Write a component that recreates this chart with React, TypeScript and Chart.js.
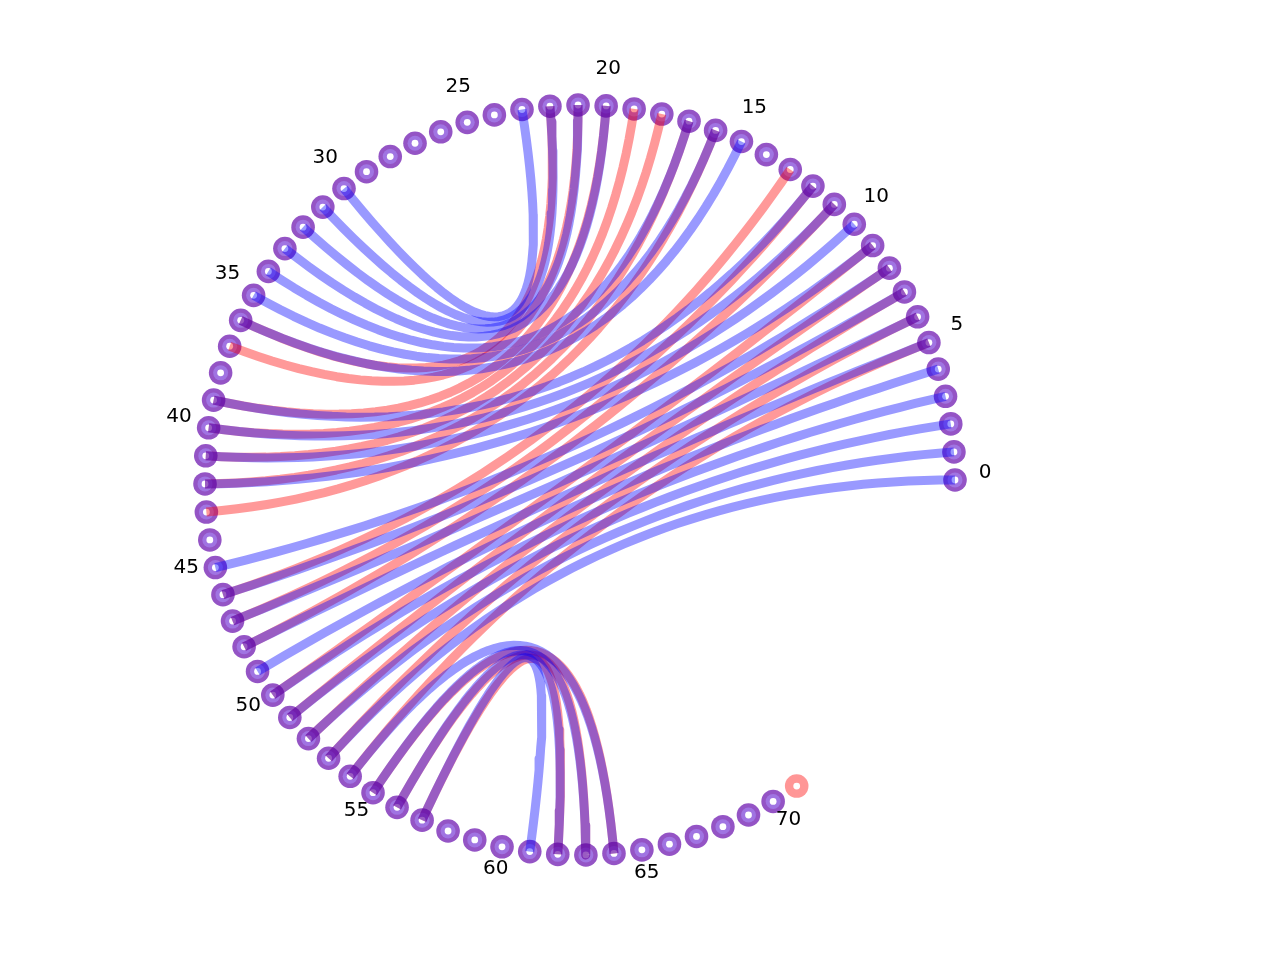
import React, { useEffect, useRef } from 'react';
import { Chart, registerables } from 'chart.js';

Chart.register(...registerables);

// two pairings drawn on the same ring of nodes
const blueNodeCount = 71;
const redNodeCount = 72;

const blueFrom = [0, 1, 2, 3, 4, 5, 6, 7, 8, 9, 10, 11, 12, 15, 16, 17, 20, 21, 22, 23, 54, 55, 56, 57];
const blueTo = [53, 52, 51, 50, 49, 48, 47, 46, 45, 42, 41, 40, 39, 36, 35, 34, 33, 32, 31, 30, 64, 63, 62, 61];

const redFrom = [5, 6, 7, 8, 9, 11, 12, 13, 16, 17, 18, 19, 20, 21, 22, 55, 56, 57];
const redTo = [54, 53, 52, 51, 50, 48, 47, 46, 43, 42, 41, 40, 39, 37, 36, 64, 63, 62];

const tickNodes = [0, 5, 10, 15, 20, 25, 30, 35, 40, 45, 50, 55, 60, 65, 70];
const tickLabels = ['0', '5', '10', '15', '20', '25', '30', '35', '40', '45', '50', '55', '60', '65', '70'];

const STEP = (4.3 * Math.PI) / 180;
const LABEL_R = 1.08;

const nodePos = (i: number) => ({ x: Math.cos(i * STEP), y: Math.sin(i * STEP) });

// quadratic curve with the ring centre as control point
const curve = (a: number, b: number) => {
  const p = nodePos(a);
  const q = nodePos(b);
  const pts = [];
  for (let k = 0; k <= 48; k++) {
    const t = k / 48;
    pts.push({ x: (1 - t) * (1 - t) * p.x + t * t * q.x, y: (1 - t) * (1 - t) * p.y + t * t * q.y });
  }
  return pts;
};

const labelPlugin = {
  id: 'nodeLabels',
  afterDatasetsDraw(chart: any) {
    const { ctx, scales } = chart;
    ctx.save();
    ctx.font = '20px "DejaVu Sans"';
    ctx.fillStyle = '#000';
    ctx.textAlign = 'center';
    ctx.textBaseline = 'middle';
    tickNodes.forEach((n, i) => {
      const a = n * STEP;
      const px = scales.x.getPixelForValue(LABEL_R * Math.cos(a));
      const py = scales.y.getPixelForValue(LABEL_R * Math.sin(a)) - 7;
      ctx.fillText(tickLabels[i], px, py);
    });
    ctx.restore();
  },
};

const App: React.FC = () => {
  const canvasRef = useRef<HTMLCanvasElement | null>(null);

  useEffect(() => {
    if (!canvasRef.current) return;

    const allNodes = Array.from({ length: redNodeCount }, (_, i) => nodePos(i));
    const outerColors = allNodes.map((_, i) => (i < blueNodeCount ? 'rgb(148,84,197)' : 'rgb(255,150,150)'));
    const innerColors = allNodes.map((_, i) => (i < blueNodeCount ? 'rgb(160,116,226)' : 'rgb(255,150,150)'));

    const edgeStyle = {
      showLine: true,
      pointRadius: 0,
      borderWidth: 9,
      borderCapStyle: 'butt',
      borderJoinStyle: 'round',
      tension: 0,
      fill: false,
    };

    const blueSets = blueFrom.map((a, i) => ({
      ...edgeStyle,
      data: curve(a, blueTo[i]),
      borderColor: 'rgba(0,0,255,0.4)',
      order: 1,
    }));
    const redSets = redFrom.map((a, i) => ({
      ...edgeStyle,
      data: curve(a, redTo[i]),
      borderColor: 'rgba(255,0,0,0.4)',
      order: 2,
    }));

    const nodeSets = [
      { data: allNodes, pointRadius: 3.4, pointBackgroundColor: '#fff', pointBorderWidth: 0, order: 3 },
      { data: allNodes, pointRadius: 7.5, pointBackgroundColor: innerColors, pointBorderWidth: 0, order: 4 },
      { data: allNodes, pointRadius: 11.8, pointBackgroundColor: outerColors, pointBorderWidth: 0, order: 5 },
    ];

    const chart = new Chart(canvasRef.current, {
      type: 'scatter',
      data: { datasets: [...blueSets, ...redSets, ...nodeSets] as any },
      options: {
        animation: false,
        responsive: false,
        devicePixelRatio: 1,
        events: [],
        layout: { padding: 0, autoPadding: false },
        plugins: { legend: { display: false }, tooltip: { enabled: false } },
        scales: {
          x: { type: 'linear', display: false, min: -580 / 375, max: 700 / 375 },
          y: { type: 'linear', display: false, min: -1.28, max: 1.28 },
        },
      },
      plugins: [labelPlugin],
    });

    return () => chart.destroy();
  }, []);

  return (
    <div style={{ position: 'absolute', left: 0, top: 0, width: 1280, height: 960, background: '#fff' }}>
      <canvas ref={canvasRef} width={1280} height={960} style={{ width: 1280, height: 960 }} />
    </div>
  );
};

export default App;
